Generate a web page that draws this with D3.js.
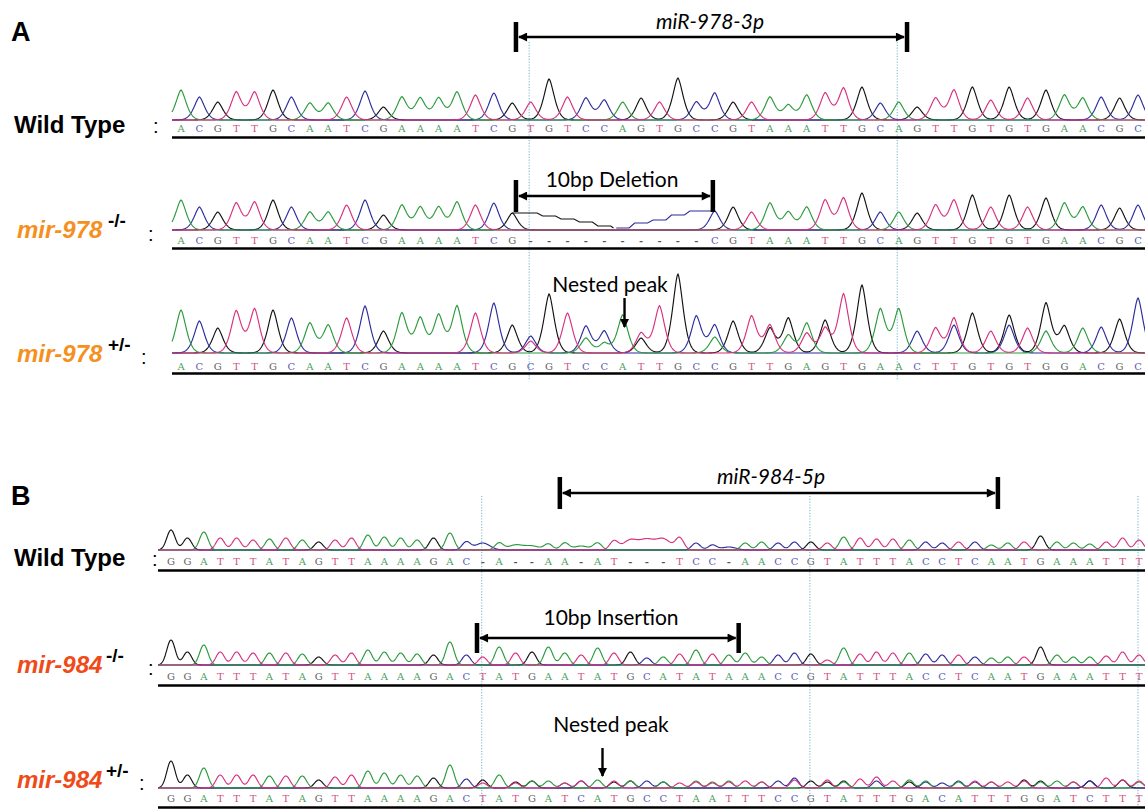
<!DOCTYPE html>
<html>
<head>
<meta charset="utf-8">
<script src="https://cdn.jsdelivr.net/npm/d3@7"></script>
<style>
  body { margin: 0; background: #fff; }
  svg { display: block; }
</style>
</head>
<body>
<div id="chart"></div>
<script>
// DATA - base calls and peak signal
const wt978Calls = 'ACGTTGCAATCGAAAATCGTGTCCAGTGCCGTAAATTGCAGTTGTGTGAACGC'
const wt978Signal = [30,23,18,28,28,30,23,17,17,23, 29,13,23,22,22,28,25,27,17,18, 41,23,22,20,18,22,18,42,18,27,
  18,18,23,15,25,27,32,33,17,18, 13,22,30,33,20,33,22,30,25,22, 23,22,25]

const ko978Calls = 'ACGTTGCAATCGAAAATCG----------CGTAAATTGCAGTTGTGTGAACGC'
const ko978Signal = [30,23,18,27,28,30,23,18,18,25, 30,15,25,23,23,28,25,27,17, 17,14,11,8,4,2,7,10,15,19,
  19,23,18,27,18,23,30,32,37,18, 18,17,25,30,35,23,35,23,32,27, 23,25,22,25]
const ko978GapBases = 'GGGGGCCCCC' // colour of the flat trace across the deletion

const het978Calls = 'ACGTTGCAATCGAAAATCGCGTCCATTGCCGTTGAGTGAACTTGTGTGGACGC'
const het978Signal = [43,32,25,42,44,43,35,30,28,35, 47,22,40,35,38,47,40,50,28,17, 59,40,27,22,38,20,47,79,37,28,
  32,37,28,35,30,33,59,68,22,44, 22,25,35,40,22,38,25,50,27,25, 26,34,55]
const het978MinorPos = [19,22,23,25,29,32,33,34,35,38,42,45,47]
const het978MinorBases = 'TAAGAGATTACCA'
const het978MinorSignal = [12,15,10,15,16,25,18,20,25,22,28,28,22]

const wt984Calls = 'GGATTTATAGTTAAAAGAC-A--AA-AT---TCC-AACCGTATTTACCTCAATGAAATTT'
const wt984TraceBases = 'GGATTTATAGTTAAAAGACCAAAAAAATTTTTCCCAACCGTATTTACCTCAATGAAATTT'
const wt984Signal = [20,12,18,12,12,10,11,12,10,8, 10,12,15,13,12,10,12,17,8,7, 7,5,4,6,7,4,7,9,10,10,
  11,12,7,5,3,7,8,7,8,8, 7,13,12,11,11,10,8,7,8,8, 5,7,8,14,8,7,6,8,12,10]

const ko984Calls = 'GGATTTATAGTTAAAAGACTATGAATATGCATATAAACCGTATTTACCTCAATGAAATTT'
const ko984Signal = [25,13,20,13,13,12,12,12,11,8, 10,12,15,13,12,11,10,23,10,8, 18,12,13,18,12,10,17,12,13,7,
  8,11,15,11,10,12,8,10,12,11, 5,17,11,13,12,12,11,10,10,8, 7,8,8,18,10,8,8,9,13,10]

const het984Calls = 'GGATTTATAGTTAAAAGACTATGATCATGCCTAATTTCCGTATTTGACATTTGGATCTTT'
const het984Signal = [27,13,20,13,13,13,12,12,12,8, 11,13,17,15,13,12,10,23,9,5, 13,5,7,7,5,7,8,7,7,7,
  6,5,7,6,6,7,6,7,10,7, 8,6,9,11,7,6,7,5,6,7, 6,6,8,7,7,6,7,10,8,7]
const het984MinorPos = [19,21,22,24,25,27,28,30,32,33,34,36,38,40,41,43,45,46,48,49,50,52,53,55,56,58,59]
const het984MinorBases = 'GGAATGAATTAATGGCACCCATAAGGA'
const het984MinorSignal = [8,6,7,5,7,6,7,6,6,5, 7,6,8,6,7,7,8,6,7,6, 6,7,6,6,7,8,6]

const markA = [19, 39]        // ruler ticks of the sequence viewer
const markB = [19, 39, 59]

// Dimensions
const dimensions = { width: 1145, height: 809 }

const traceColor = { A: '#2a9a3c', C: '#2c2c9e', G: '#121212', T: '#d8307e' }
const letterColor = { A: '#4b9f5d', C: '#5a5ab8', G: '#5f5f5f', T: '#d0507f', '-': '#555' }

const svg = d3.select('#chart')
  .append('svg')
  .attr('width', dimensions.width)
  .attr('height', dimensions.height)

const defs = svg.append('defs')
defs.append('marker')
  .attr('id', 'head')
  .attr('viewBox', '0 0 10 10')
  .attr('refX', 9).attr('refY', 5)
  .attr('markerWidth', 11).attr('markerHeight', 9)
  .attr('markerUnits', 'userSpaceOnUse')
  .attr('orient', 'auto-start-reverse')
  .append('path')
  .attr('d', 'M0,0 L10,5 L0,10 z')
  .attr('fill', '#000')

// SCALES
const xA = d3.scaleLinear().domain([0, 52]).range([181, 1138])
const xB = d3.scaleLinear().domain([0, 59]).range([171, 1139])

const tracks = [
  { calls: wt978Calls, signal: wt978Signal, x: xA, sigma: 4.9, sharp: 1.6, base: 120, letters: 128, rule: 137.5, x0: 172 },
  { calls: ko978Calls, signal: ko978Signal, x: xA, sigma: 4.9, sharp: 1.6, base: 230, letters: 240, rule: 248.5, x0: 172,
    gap: ko978GapBases },
  { calls: het978Calls, signal: het978Signal, x: xA, sigma: 4.9, sharp: 1.6, base: 353, letters: 366.5, rule: 373.5, x0: 172,
    minor: { pos: het978MinorPos, bases: het978MinorBases, signal: het978MinorSignal } },
  { calls: wt984Calls, trace: wt984TraceBases, signal: wt984Signal, x: xB, sigma: 4.2, sharp: 2, base: 550, letters: 561, rule: 570.5, x0: 158 },
  { calls: ko984Calls, signal: ko984Signal, x: xB, sigma: 4.2, sharp: 2, base: 665, letters: 676, rule: 685.5, x0: 158 },
  { calls: het984Calls, signal: het984Signal, x: xB, sigma: 4.2, sharp: 2, base: 788, letters: 798, rule: 807.5, x0: 158,
    minor: { pos: het984MinorPos, bases: het984MinorBases, signal: het984MinorSignal } },
]

// viewer ruler lines
const rulerGroup = svg.append('g')
  .attr('stroke', '#7fb9d6')
  .attr('stroke-width', 1.1)
  .attr('stroke-dasharray', '1.2,1.6')
rulerGroup.selectAll('line.a')
  .data(markA)
  .join('line')
  .attr('x1', d => xA(d) - 1.5).attr('x2', d => xA(d) - 1.5)
  .attr('y1', 42).attr('y2', 380)
rulerGroup.selectAll('line.b')
  .data(markB)
  .join('line')
  .attr('x1', d => xB(d) - 1).attr('x2', d => xB(d) - 1)
  .attr('y1', 496).attr('y2', 809)

// DRAW TRACES
tracks.forEach(t => {
  const y = d3.scaleLinear().domain([0, 80]).range([t.base, t.base - 80])
  const peakBases = t.trace || t.calls
  const peaks = []
  peakBases.split('').forEach((b, i) => {
    if (t.calls[i] === '-' && t.gap) return
    const wide = t.calls[i] === '-' ? 1.7 : 1
    peaks.push({ b, i, v: t.signal[i], s: t.sigma * wide })
  })
  if (t.minor) {
    t.minor.pos.forEach((p, k) => peaks.push({ b: t.minor.bases[k], i: p, v: t.minor.signal[k], s: t.sigma }))
  }

  const g = svg.append('g')
  const xs = d3.range(t.x0, 1146, 0.5)
  const line = d3.line().x(d => d[0]).y(d => y(d[1]))

  ;['G', 'C', 'A', 'T'].forEach(base => {
    const own = peaks.filter(p => p.b === base)
    const pts = xs.map(px => {
      let v = 0
      own.forEach(p => {
        const dx = Math.abs(px - t.x(p.i)) / p.s
        v += p.v * Math.exp(-Math.pow(dx, t.sharp) / 2)
      })
      return [px, v]
    })
    g.append('path')
      .attr('d', line(pts))
      .attr('fill', 'none')
      .attr('stroke', traceColor[base])
      .attr('stroke-width', 1.15)
  })

  // flat stepped trace across the deleted bases
  if (t.gap) {
    const gapIdx = d3.range(t.calls.length).filter(i => t.calls[i] === '-')
    ;['G', 'C'].forEach(base => {
      const idx = gapIdx.filter((i, k) => t.gap[k] === base)
      const pts = []
      if (base === 'G') pts.push([t.x(idx[0] - 1), t.signal[idx[0] - 1]])
      idx.forEach(i => {
        pts.push([t.x(i - 0.35), t.signal[i]])
        pts.push([t.x(i + 0.35), t.signal[i]])
      })
      if (base === 'C') pts.push([t.x(idx[idx.length - 1] + 1), t.signal[idx[idx.length - 1] + 1]])
      else pts.push([t.x(idx[idx.length - 1] + 0.5), 2])
      g.append('path')
        .attr('d', line(pts))
        .attr('fill', 'none')
        .attr('stroke', traceColor[base])
        .attr('stroke-width', 1.15)
    })
  }

  // base call letters
  g.selectAll('text')
    .data(t.calls.split(''))
    .join('text')
    .attr('x', (d, i) => t.x(i))
    .attr('y', t.letters)
    .attr('dy', '0.35em')
    .attr('text-anchor', 'middle')
    .attr('font-family', 'DejaVu Serif, serif')
    .attr('font-size', 10)
    .attr('font-weight', d => d === '-' ? 'bold' : 'normal')
    .attr('fill', d => letterColor[d])
    .text(d => d)

  g.append('line')
    .attr('x1', t.x0).attr('x2', dimensions.width)
    .attr('y1', t.rule).attr('y2', t.rule)
    .attr('stroke', '#000')
    .attr('stroke-width', 2.4)
})

// ANNOTATIONS
const brackets = [
  { x: xA, from: 18.2, to: 39.45, y: 37, half: 15, label: 'miR-978-3p', italic: true, tx: 710, ty: 29 },
  { x: xA, from: 18.2, to: 28.9, y: 196, half: 16, label: '10bp Deletion', tx: 612, ty: 187 },
  { x: xB, from: 23.7, to: 50.4, y: 493, half: 16, label: 'miR-984-5p', italic: true, tx: 771, ty: 484 },
  { x: xB, from: 18.65, to: 34.6, y: 638, half: 15, label: '10bp Insertion', tx: 611, ty: 625 },
]

const ann = svg.append('g')
brackets.forEach(b => {
  const x1 = b.x(b.from)
  const x2 = b.x(b.to)
  ann.append('line')
    .attr('x1', x1 + 3).attr('x2', x2 - 3)
    .attr('y1', b.y).attr('y2', b.y)
    .attr('stroke', '#000').attr('stroke-width', 2.4)
    .attr('marker-start', 'url(#head)')
    .attr('marker-end', 'url(#head)')
  ann.selectAll(null)
    .data([x1, x2])
    .join('line')
    .attr('x1', d => d).attr('x2', d => d)
    .attr('y1', b.y - b.half).attr('y2', b.y + b.half)
    .attr('stroke', '#000').attr('stroke-width', 4.5)
  ann.append('text')
    .attr('x', b.tx).attr('y', b.ty)
    .attr('text-anchor', 'middle')
    .attr('font-family', 'Lato, Open Sans, sans-serif')
    .attr('font-size', 21)
    .attr('font-style', b.italic ? 'italic' : 'normal')
    .text(b.label)
})

const nested = [
  { x: xA, at: 24.1, y1: 298, y2: 327, tx: 610, ty: 292 },
  { x: xB, at: 26.3, y1: 748, y2: 776, tx: 611, ty: 732 },
]
nested.forEach(n => {
  ann.append('line')
    .attr('x1', n.x(n.at)).attr('x2', n.x(n.at))
    .attr('y1', n.y1).attr('y2', n.y2)
    .attr('stroke', '#000').attr('stroke-width', 2.4)
    .attr('marker-end', 'url(#head)')
  ann.append('text')
    .attr('x', n.tx).attr('y', n.ty)
    .attr('text-anchor', 'middle')
    .attr('font-family', 'Lato, Open Sans, sans-serif')
    .attr('font-size', 21)
    .text('Nested peak')
})

// LEFT LABELS
const labels = svg.append('g')
  .attr('font-family', 'Liberation Sans, Arial, sans-serif')
  .attr('font-weight', 'bold')

labels.append('text').attr('x', 11).attr('y', 41).attr('font-size', 27).text('A')
labels.append('text').attr('x', 11).attr('y', 505).attr('font-size', 27).text('B')

const rowLabels = [
  { y: 133, colonX: 153, colonY: 133 },
  { y: 238, gene: 'mir-978', sup: '-/-', color: '#f5901e', supX: 108, colonX: 148, colonY: 241 },
  { y: 362, gene: 'mir-978', sup: '+/-', color: '#f5901e', supX: 108, colonX: 141, colonY: 364 },
  { y: 566, colonX: 152, colonY: 566 },
  { y: 673, gene: 'mir-984', sup: '-/-', color: '#f04a18', supX: 106, colonX: 148, colonY: 675 },
  { y: 788, gene: 'mir-984', sup: '+/-', color: '#f04a18', supX: 106, colonX: 139, colonY: 790 },
]
rowLabels.forEach(r => {
  if (!r.gene) {
    labels.append('text').attr('x', 14).attr('y', r.y).attr('font-size', 24).text('Wild Type')
  } else {
    labels.append('text').attr('x', 17).attr('y', r.y)
      .attr('font-size', 24).attr('font-style', 'italic').attr('fill', r.color)
      .text(r.gene)
    labels.append('text').attr('x', r.supX).attr('y', r.y - 11)
      .attr('font-size', 19).text(r.sup)
  }
  labels.append('text').attr('x', r.colonX).attr('y', r.colonY)
    .attr('font-size', 20).attr('font-weight', 'normal').text(':')
})
</script>
</body>
</html>
